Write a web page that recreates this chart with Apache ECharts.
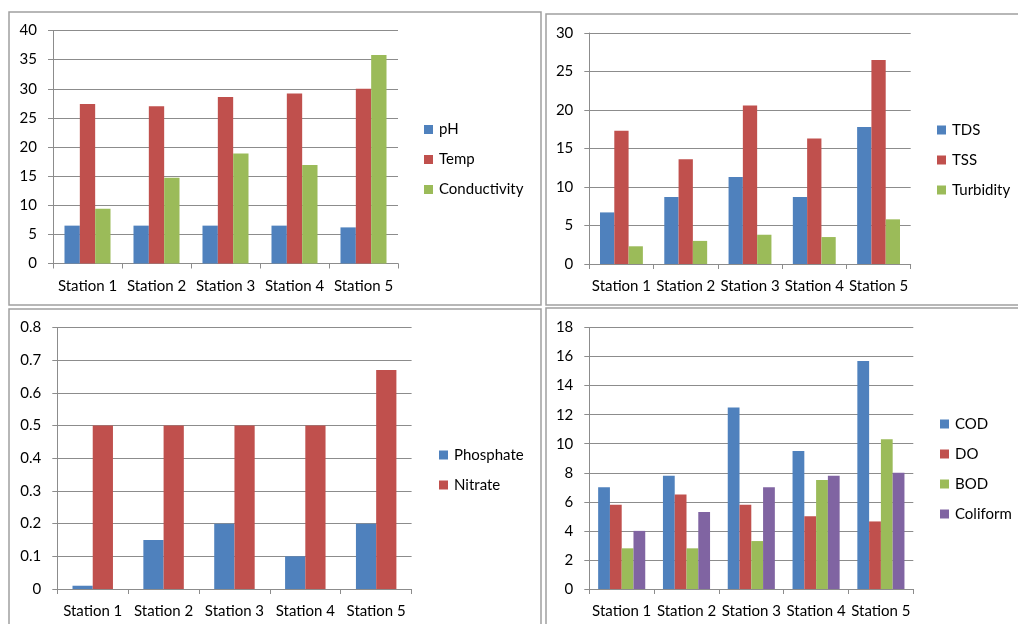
<!DOCTYPE html>
<html>
<head>
<meta charset="utf-8">
<script src="https://cdn.jsdelivr.net/npm/echarts@6/dist/echarts.min.js"></script>
<style>
  html, body { margin: 0; padding: 0; background: #fff; }
  #chart { width: 1018px; height: 624px; }
</style>
</head>
<body>
<div id="chart"></div>
<script>
// Sampling stations shared by all four panels
const stations = ['Station 1', 'Station 2', 'Station 3', 'Station 4', 'Station 5'];

// Panel 1: physical parameters
const ph = [6.5, 6.5, 6.5, 6.5, 6.2];
const temp = [27.4, 27.0, 28.6, 29.2, 30.0];
const conductivity = [9.4, 14.7, 18.9, 16.9, 35.8];

// Panel 2: solids
const tds = [6.7, 8.7, 11.3, 8.7, 17.8];
const tss = [17.3, 13.6, 20.6, 16.3, 26.5];
const turbidity = [2.3, 3.0, 3.8, 3.5, 5.8];

// Panel 3: nutrients
const phosphate = [0.01, 0.15, 0.2, 0.1, 0.2];
const nitrate = [0.5, 0.5, 0.5, 0.5, 0.67];

// Panel 4: oxygen demand and bacteria
const cod = [7.0, 7.8, 12.5, 9.5, 15.7];
const dissolvedOxygen = [5.8, 6.5, 5.8, 5.0, 4.65];
const bod = [2.8, 2.8, 3.3, 7.5, 10.3];
const coliform = [4.0, 5.3, 7.0, 7.8, 8.0];

const BLUE = '#4F81BD', RED = '#C0504D', GREEN = '#9BBB59', PURPLE = '#8064A2';
const FONT = 'Lato, "Open Sans", sans-serif';
const FONT_SIZE = 15;
const GRID_GRAY = '#8C8C8C';

const chart = echarts.init(document.getElementById('chart'), null, { renderer: 'canvas' });

const grids = [
  { left: 53, top: 30.5, width: 345, height: 233 },
  { left: 589.3, top: 33, width: 321.4, height: 231 },
  { left: 57.3, top: 327.5, width: 354.3, height: 261.5 },
  { left: 589.3, top: 327.5, width: 324, height: 261.5 }
];

const yRanges = [
  { max: 40, interval: 5 },
  { max: 30, interval: 5 },
  { max: 0.8, interval: 0.1 },
  { max: 18, interval: 2 }
];

const xAxes = grids.map((g, i) => ({
  type: 'category',
  gridIndex: i,
  data: stations,
  axisLine: { lineStyle: { color: GRID_GRAY, width: 1 } },
  axisTick: { show: true, length: 5, lineStyle: { color: GRID_GRAY } },
  axisLabel: { color: '#000', fontFamily: FONT, fontSize: FONT_SIZE, margin: 15, interval: 0 }
}));

const yAxes = yRanges.map((r, i) => ({
  type: 'value',
  gridIndex: i,
  min: 0,
  max: r.max,
  interval: r.interval,
  axisLine: { show: true, lineStyle: { color: GRID_GRAY, width: 1 } },
  axisTick: { show: true, length: 5, lineStyle: { color: GRID_GRAY } },
  splitLine: { show: true, lineStyle: { color: GRID_GRAY, width: 1 } },
  axisLabel: {
    color: '#000', fontFamily: FONT, fontSize: FONT_SIZE, margin: 16,
    formatter: v => String(+v.toFixed(1))
  }
}));

function bars(name, data, color, idx, gap) {
  return {
    type: 'bar',
    name,
    data,
    xAxisIndex: idx,
    yAxisIndex: idx,
    barGap: '0%',
    barCategoryGap: gap,
    itemStyle: { color },
    emphasis: { disabled: true }
  };
}

const series = [
  bars('pH', ph, BLUE, 0, '33.3%'),
  bars('Temp', temp, RED, 0, '33.3%'),
  bars('Conductivity', conductivity, GREEN, 0, '33.3%'),
  bars('TDS', tds, BLUE, 1, '33.3%'),
  bars('TSS', tss, RED, 1, '33.3%'),
  bars('Turbidity', turbidity, GREEN, 1, '33.3%'),
  bars('Phosphate', phosphate, BLUE, 2, '42.9%'),
  bars('Nitrate', nitrate, RED, 2, '42.9%'),
  bars('COD', cod, BLUE, 3, '27.3%'),
  bars('DO', dissolvedOxygen, RED, 3, '27.3%'),
  bars('BOD', bod, GREEN, 3, '27.3%'),
  bars('Coliform', coliform, PURPLE, 3, '27.3%')
];

function legend(names, left, top) {
  return {
    data: names,
    orient: 'vertical',
    left, top,
    padding: 0,
    itemWidth: 9,
    itemHeight: 9,
    itemGap: 15,
    icon: 'rect',
    selectedMode: false,
    textStyle: { color: '#000', fontFamily: FONT, fontSize: FONT_SIZE, lineHeight: 15, padding: [0, 0, 0, 1] }
  };
}

// Frames around each of the four panels
const FRAME = { stroke: '#A0A0A0', lineWidth: 1.5, fill: 'none' };
const frames = [
  [9, 12, 532, 293],
  [546, 14, 480, 291],
  [9, 309, 532, 330],
  [546, 308, 480, 330]
].map(([x, y, w, h]) => ({
  type: 'rect', silent: true, z: -1,
  shape: { x, y, width: w, height: h },
  style: FRAME
}));

chart.setOption({
  animation: false,
  backgroundColor: '#fff',
  grid: grids.map(g => Object.assign({ containLabel: false }, g)),
  xAxis: xAxes,
  yAxis: yAxes,
  legend: [
    legend(['pH', 'Temp', 'Conductivity'], 424, 122),
    legend(['TDS', 'TSS', 'Turbidity'], 937, 122.5),
    legend(['Phosphate', 'Nitrate'], 439, 447.5),
    legend(['COD', 'DO', 'BOD', 'Coliform'], 940, 416.5)
  ],
  graphic: frames,
  series
});
</script>
</body>
</html>
